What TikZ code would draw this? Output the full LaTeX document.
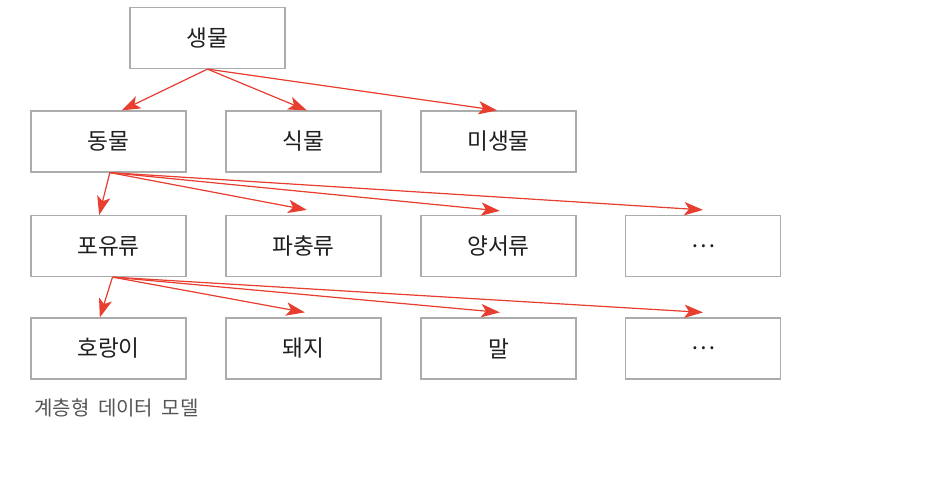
\documentclass[tikz,border=0pt]{standalone}
\usepackage{fontspec}
\setmainfont{Noto Sans CJK KR}
\usetikzlibrary{arrows.meta}
\usepackage{xcolor}
\definecolor{boxgray}{RGB}{172,172,172}
\definecolor{arrowred}{RGB}{232,62,48}
\definecolor{captiongray}{RGB}{85,85,85}

\tikzset{
	classbox/.style={draw=boxgray, line width=0.9pt, minimum width=116.25pt, minimum height=45.75pt, inner sep=0pt, font=\fontsize{17}{20}\selectfont, text=black!88},
	linkarrow/.style={draw=arrowred, line width=0.9pt, -{Stealth[length=14pt,width=10pt,inset=3.5pt]}, fill=arrowred}
}

\begin{document}
\begin{tikzpicture}[x=0.75pt,y=0.75pt,yscale=-1,xscale=1]
		\useasboundingbox (0,0) rectangle (945,481);
		
		%Shape: Rectangle (root)
		\node [classbox] (living) at (207.5,38) {생물};
		%Shape: Rectangle (level 1)
		\node [classbox] (animal) at (108.5,141.5) {동물};
		\node [classbox] (plant) at (303.5,141.5) {식물};
		\node [classbox] (microbe) at (498.5,141.5) {미생물};
		%Shape: Rectangle (level 2)
		\node [classbox] (mammal) at (108.5,246) {포유류};
		\node [classbox] (reptile) at (303.5,246) {파충류};
		\node [classbox] (amphibian) at (498.5,246) {양서류};
		\node [classbox] (animalmore) at (703,246) {…};
		%Shape: Rectangle (level 3)
		\node [classbox] (tiger) at (108.5,348.5) {호랑이};
		\node [classbox] (pig) at (303.5,348.5) {돼지};
		\node [classbox] (horse) at (498.5,348.5) {말};
		\node [classbox] (mammalmore) at (703,348.5) {…};
		
		%Straight Lines
		\draw [linkarrow] (living.south) -- ([xshift=10pt]animal.north);
		\draw [linkarrow] (living.south) -- ([xshift=2.5pt]plant.north);
		\draw [linkarrow] (living.south) -- ([xshift=-1pt]microbe.north);
		
		%Straight Lines
		\draw [linkarrow] ([xshift=1pt]animal.south) -- ([xshift=-7pt]mammal.north);
		\draw [linkarrow] ([xshift=1pt]animal.south) -- ([xshift=2.5pt,yshift=-3.75pt]reptile.north);
		\draw [linkarrow] ([xshift=1pt]animal.south) -- ([xshift=1pt,yshift=-3pt]amphibian.north);
		\draw [linkarrow] ([xshift=1pt]animal.south) -- ([yshift=-3.75pt]animalmore.north);
		
		%Straight Lines
		\draw [linkarrow] ([xshift=3pt]mammal.south) -- ([xshift=-6.5pt]tiger.north);
		\draw [linkarrow] ([xshift=3pt]mammal.south) -- ([xshift=1pt,yshift=-3.75pt]pig.north);
		\draw [linkarrow] ([xshift=3pt]mammal.south) -- ([xshift=1pt,yshift=-3.75pt]horse.north);
		\draw [linkarrow] ([xshift=3pt]mammal.south) -- ([yshift=-3.75pt]mammalmore.north);
		
		% Text Node
		\node [anchor=west, inner sep=0pt, font=\fontsize{15}{18}\selectfont, text=captiongray] (caption) at (34,408) {\spaceskip=6.5pt 계층형 데이터 모델};
		
\end{tikzpicture}
\end{document}
